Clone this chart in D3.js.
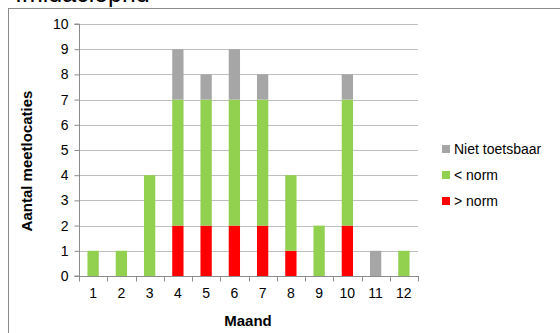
<!DOCTYPE html>
<html>
<head>
<meta charset="utf-8">
<script src="https://cdn.jsdelivr.net/npm/d3@7"></script>
<style>
  html, body { margin: 0; padding: 0; background: #fff; }
  svg { display: block; font-family: Arial, "Liberation Sans", sans-serif; }
</style>
</head>
<body>
<svg id="chart" width="560" height="333"></svg>
<script>
// Monthly counts of measuring locations per assessment class
const months = ["1", "2", "3", "4", "5", "6", "7", "8", "9", "10", "11", "12"];
const aboveNorm = [0, 0, 0, 2, 2, 2, 2, 1, 0, 2, 0, 0];
const belowNorm = [1, 1, 4, 5, 5, 5, 5, 3, 2, 5, 0, 1];
const notTestable = [0, 0, 0, 2, 1, 2, 1, 0, 0, 1, 1, 0];
const yTicks = [0, 1, 2, 3, 4, 5, 6, 7, 8, 9, 10];

const seriesKeys = ["above", "below", "nottest"];
const seriesNames = { above: "> norm", below: "< norm", nottest: "Niet toetsbaar" };
const colors = { above: "#FF0000", below: "#92D050", nottest: "#A6A6A6" };

const rows = months.map((m, i) => ({
  month: m, above: aboveNorm[i], below: belowNorm[i], nottest: notTestable[i]
}));

const svg = d3.select("#chart");
const plotLeft = 79, plotRight = 418, plotTop = 24, plotBottom = 276;

// outer frame
svg.append("rect")
  .attr("x", 8.5).attr("y", 8.5).attr("width", 600).attr("height", 400)
  .attr("fill", "none").attr("stroke", "#8c8c8c").attr("stroke-width", 1);

// title (partly above the frame)
svg.append("text")
  .attr("x", 15).attr("y", 2)
  .attr("font-size", 25).attr("fill", "#000")
  .text("Imidacloprid");

const x = d3.scaleBand().domain(months).range([plotLeft, plotRight]).paddingInner(0.6).paddingOuter(0.3);
const xBound = d3.scaleBand().domain(months).range([plotLeft, plotRight]);
const y = d3.scaleLinear().domain([0, 10]).range([plotBottom, plotTop]);

// gridlines
svg.append("g")
  .selectAll("line").data(yTicks.filter(t => t > 0)).join("line")
  .attr("x1", plotLeft).attr("x2", plotRight)
  .attr("y1", d => Math.round(y(d)) + 0.5).attr("y2", d => Math.round(y(d)) + 0.5)
  .attr("stroke", "#BFBFBF").attr("stroke-width", 1);

// stacked bars
const stack = d3.stack().keys(seriesKeys)(rows);
svg.append("g").selectAll("g").data(stack).join("g")
  .attr("fill", d => colors[d.key])
  .selectAll("rect").data(d => d).join("rect")
  .attr("x", d => x(d.data.month))
  .attr("width", x.bandwidth())
  .attr("y", d => y(d[1]))
  .attr("height", d => y(d[0]) - y(d[1]));

// y axis
const yAxis = svg.append("g")
  .attr("transform", `translate(${plotLeft + 0.5},0)`)
  .call(d3.axisLeft(y).tickValues(yTicks).tickSize(5).tickPadding(6));
yAxis.selectAll("path, line").attr("stroke", "#8c8c8c");
yAxis.selectAll("text").attr("font-size", 14).attr("fill", "#000")
  .attr("font-family", "Arial, 'Liberation Sans', sans-serif");
yAxis.select(".domain").attr("d", `M-5,${plotBottom}H0V${plotTop}H-5`);

// x axis with ticks on band boundaries
const xg = svg.append("g").attr("transform", `translate(0,${plotBottom + 0.5})`);
xg.append("line").attr("x1", plotLeft).attr("x2", plotRight + 1)
  .attr("stroke", "#8c8c8c");
const bounds = months.map(m => xBound(m)).concat([plotRight]);
xg.selectAll("line.tick").data(bounds).join("line")
  .attr("class", "tick")
  .attr("x1", d => Math.round(d) + 0.5).attr("x2", d => Math.round(d) + 0.5)
  .attr("y1", 0).attr("y2", 5).attr("stroke", "#8c8c8c");
xg.selectAll("text").data(months).join("text")
  .attr("x", d => xBound(d) + xBound.bandwidth() / 2)
  .attr("y", 21)
  .attr("text-anchor", "middle")
  .attr("font-size", 14).attr("fill", "#000")
  .text(d => d);

// axis titles
svg.append("text")
  .attr("x", 248).attr("y", 326)
  .attr("text-anchor", "middle").attr("font-size", 15).attr("font-weight", "bold")
  .text("Maand");
svg.append("text")
  .attr("transform", "translate(32,161) rotate(-90)")
  .attr("text-anchor", "middle").attr("font-size", 15).attr("font-weight", "bold")
  .text("Aantal meetlocaties");

// legend
const legendKeys = ["nottest", "below", "above"];
const lg = svg.append("g").selectAll("g").data(legendKeys).join("g")
  .attr("transform", (d, i) => `translate(442,${149 + i * 26})`);
lg.append("rect").attr("x", 0).attr("y", -4).attr("width", 8).attr("height", 8)
  .attr("fill", d => colors[d]);
lg.append("text").attr("x", 12).attr("y", 5)
  .attr("font-size", 14).attr("fill", "#000")
  .text(d => seriesNames[d]);
</script>
</body>
</html>
